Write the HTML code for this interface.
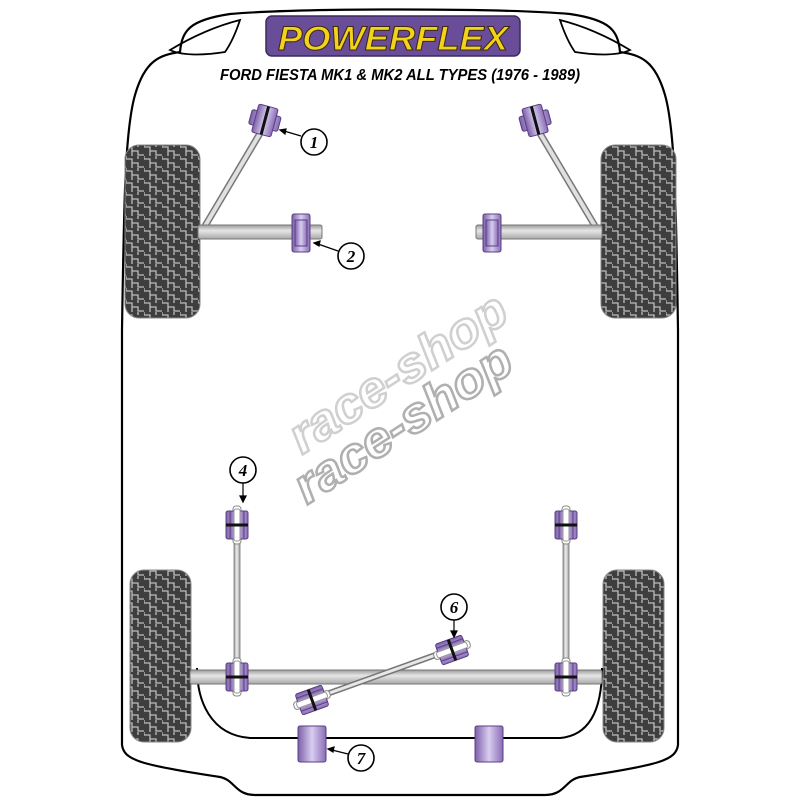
<!DOCTYPE html>
<html><head><style>html,body{margin:0;padding:0;background:#fff}svg{display:block}</style></head><body>
<svg width="800" height="800" viewBox="0 0 800 800" xmlns="http://www.w3.org/2000/svg">
<defs>
<pattern id="tread" width="18" height="12" patternUnits="userSpaceOnUse">
<rect width="18" height="12" fill="#3e3e3e"/>
<path d="M0 3 H6 V7 H12 V11 H18 M6 7 V12 M12 0 V3 M0 3 V0" fill="none" stroke="#bdbdbd" stroke-width="1.3"/>
</pattern>
<linearGradient id="bar" x1="0" y1="0" x2="0" y2="1"><stop offset="0" stop-color="#9a9a9a"/><stop offset="0.4" stop-color="#e6e6e6"/><stop offset="1" stop-color="#a8a8a8"/></linearGradient>
<linearGradient id="vbar" x1="0" y1="0" x2="1" y2="0"><stop offset="0" stop-color="#9a9a9a"/><stop offset="0.45" stop-color="#eee"/><stop offset="1" stop-color="#a0a0a0"/></linearGradient>
<linearGradient id="purp" x1="0" y1="0" x2="1" y2="0"><stop offset="0" stop-color="#7d5fa8"/><stop offset="0.5" stop-color="#d8cdf0"/><stop offset="1" stop-color="#8a6db5"/></linearGradient>
<g id="circ"><circle r="13" fill="#fff" stroke="#000" stroke-width="1.6"/></g>
<g id="dlink">
<rect x="-4" y="-19" width="8" height="38" rx="3" fill="#fff" stroke="#888"/>
<rect x="-11" y="-14" width="22" height="28" rx="2" fill="url(#purp)" stroke="#5a3f85"/>
<rect x="-7" y="-14" width="14" height="28" fill="url(#purp)" stroke="#5a3f85"/>
<rect x="-3" y="-16" width="6" height="32" rx="2" fill="#fff" stroke="#999"/>
<rect x="-11" y="-1.5" width="22" height="3" fill="#111"/>
</g>
</defs>
<rect width="800" height="800" fill="#fff"/>
<path d="M122 745 L122 330 C124 200 125 130 135 95 C145 60 160 55 180 52 C182 30 190 20 230 14 C300 8 500 8 570 14 C610 20 618 30 620 52 C640 55 655 60 665 95 C675 130 676 200 678 330 L678 745 C676 760 660 765 580 777 C565 780 565 795 545 795 L255 795 C235 795 235 780 220 777 C140 765 124 760 122 745 Z" fill="none" stroke="#000" stroke-width="2.2"/>
<path d="M170 50 C195 35 220 25 240 20 C235 35 230 45 225 52 C200 56 180 55 170 50 Z" fill="none" stroke="#000" stroke-width="1.8"/>
<path d="M630 50 C605 35 580 25 560 20 C565 35 570 45 575 52 C600 56 620 55 630 50 Z" fill="none" stroke="#000" stroke-width="1.8"/>
<rect x="266" y="16" width="254" height="40" rx="6" fill="#6a4d98" stroke="#3a2a5a" stroke-width="1.5"/>
<text x="393" y="50" text-anchor="middle" font-family="Liberation Sans, sans-serif" font-weight="bold" font-style="italic" font-size="34" fill="#f2d21a" stroke="#3a2a10" stroke-width="1" textLength="230" lengthAdjust="spacingAndGlyphs">POWERFLEX</text>
<text x="400" y="80" text-anchor="middle" font-family="Liberation Sans, sans-serif" font-weight="bold" font-style="italic" font-size="16" fill="#000" textLength="360" lengthAdjust="spacingAndGlyphs">FORD FIESTA MK1 &amp; MK2 ALL TYPES (1976 - 1989)</text>
<g font-family="Liberation Sans, sans-serif" font-weight="bold" font-style="italic" font-size="50" fill="#fff" stroke-width="2.5">
<text transform="translate(302,455) rotate(-33)" stroke="#d0d0d0" textLength="250" lengthAdjust="spacingAndGlyphs">race-shop</text>
<text transform="translate(307,505) rotate(-33)" stroke="#b0b0b0" textLength="250" lengthAdjust="spacingAndGlyphs">race-shop</text>
</g>
<rect x="125" y="145" width="75" height="173" rx="14" fill="url(#tread)" stroke="#888"/>
<rect x="601" y="145" width="75" height="173" rx="14" fill="url(#tread)" stroke="#888"/>
<rect x="130" y="570" width="61" height="172" rx="14" fill="url(#tread)" stroke="#888"/>
<rect x="603" y="570" width="61" height="172" rx="14" fill="url(#tread)" stroke="#888"/>
<line x1="205" y1="226" x2="262" y2="130" stroke="#777" stroke-width="7"/>
<line x1="205" y1="226" x2="262" y2="130" stroke="#e0e0e0" stroke-width="4"/>
<line x1="595" y1="226" x2="538" y2="130" stroke="#777" stroke-width="7"/>
<line x1="595" y1="226" x2="538" y2="130" stroke="#e0e0e0" stroke-width="4"/>
<rect x="198" y="225" width="124" height="14" rx="2" fill="url(#bar)" stroke="#777"/>
<rect x="476" y="225" width="126" height="14" rx="2" fill="url(#bar)" stroke="#777"/>
<g transform="translate(265,120) rotate(15)"><rect x="-15" y="-7" width="30" height="15" rx="2" fill="url(#purp)" stroke="#5a3f85"/><rect x="-10" y="-14" width="20" height="29" rx="2" fill="url(#purp)" stroke="#5a3f85"/><rect x="-1.5" y="-14" width="3" height="29" fill="#111"/></g>
<g transform="translate(535,120) rotate(-15)"><rect x="-15" y="-7" width="30" height="15" rx="2" fill="url(#purp)" stroke="#5a3f85"/><rect x="-10" y="-14" width="20" height="29" rx="2" fill="url(#purp)" stroke="#5a3f85"/><rect x="-1.5" y="-14" width="3" height="29" fill="#111"/></g>
<g><rect x="292" y="214" width="18" height="38" rx="2" fill="url(#purp)" stroke="#5a3f85"/><rect x="295" y="220" width="12" height="26" fill="url(#purp)" stroke="#5a3f85"/></g>
<g><rect x="483" y="214" width="18" height="38" rx="2" fill="url(#purp)" stroke="#5a3f85"/><rect x="486" y="220" width="12" height="26" fill="url(#purp)" stroke="#5a3f85"/></g>
<path d="M197 668 C197 700 210 735 250 738 L560 738 C595 735 602 700 602 668" fill="none" stroke="#000" stroke-width="2"/>
<rect x="234" y="525" width="6" height="150" fill="url(#vbar)" stroke="#777" stroke-width="0.8"/>
<rect x="563" y="525" width="6" height="150" fill="url(#vbar)" stroke="#777" stroke-width="0.8"/>
<rect x="190" y="670" width="412" height="14" rx="2" fill="url(#bar)" stroke="#777"/>
<use href="#dlink" transform="translate(237,525)"/>
<use href="#dlink" transform="translate(566,525)"/>
<use href="#dlink" transform="translate(237,677)"/>
<use href="#dlink" transform="translate(566,677)"/>
<line x1="310" y1="700" x2="455" y2="648" stroke="#777" stroke-width="6"/>
<line x1="310" y1="700" x2="455" y2="648" stroke="#e8e8e8" stroke-width="3"/>
<use href="#dlink" transform="translate(452,650) rotate(70)"/>
<use href="#dlink" transform="translate(312,700) rotate(70)"/>
<rect x="298" y="726" width="28" height="36" rx="2" fill="url(#purp)" stroke="#5a3f85"/>
<rect x="475" y="726" width="28" height="36" rx="2" fill="url(#purp)" stroke="#5a3f85"/>
<g font-family="Liberation Serif, serif" font-weight="bold" font-style="italic" font-size="17" text-anchor="middle">
<use href="#circ" x="314" y="142"/><text x="314" y="148">1</text>
<use href="#circ" x="351" y="256"/><text x="351" y="262">2</text>
<use href="#circ" x="243" y="470"/><text x="243" y="476">4</text>
<use href="#circ" x="454" y="607"/><text x="454" y="613">6</text>
<use href="#circ" x="361" y="758"/><text x="361" y="764">7</text>
</g>
<g stroke="#000" stroke-width="1.2" fill="#000">
<line x1="301" y1="136" x2="284" y2="131"/><path d="M280 130 l6 -1 l-1 5z"/>
<line x1="338" y1="251" x2="318" y2="244"/><path d="M314 243 l6 -2 l-1 5z"/>
<line x1="243" y1="483" x2="243" y2="497"/><path d="M240 496 l3 6 l3 -6z"/>
<line x1="454" y1="620" x2="454" y2="632"/><path d="M451 631 l3 6 l3 -6z"/>
<line x1="348" y1="754" x2="332" y2="750"/><path d="M328 749 l6 -2 l-1 5z"/>
</g>
</svg>
</body></html>
